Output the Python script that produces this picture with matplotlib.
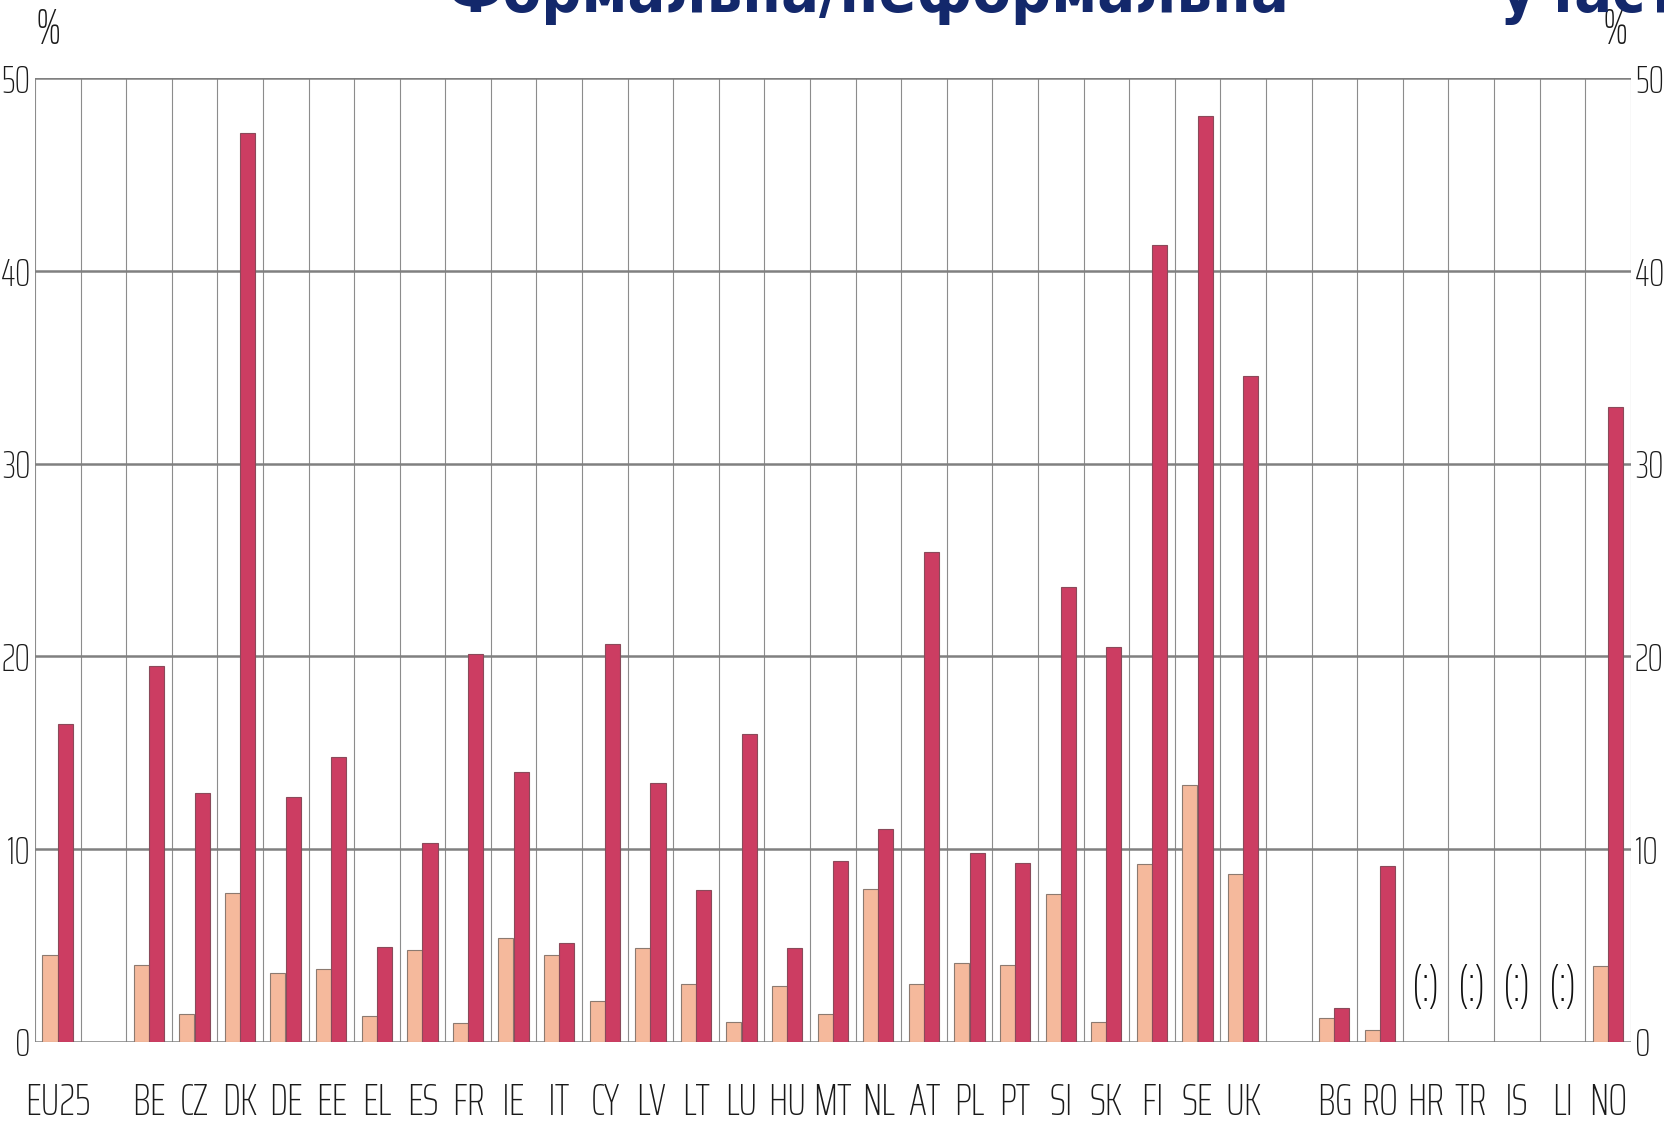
import numpy as np
import matplotlib
matplotlib.use("Agg")
import matplotlib.pyplot as plt

# countries (empty strings are the gaps between groups)
countries = ["EU25", "", "BE", "CZ", "DK", "DE", "EE", "EL", "ES", "FR", "IE", "IT",
             "CY", "LV", "LT", "LU", "HU", "MT", "NL", "AT", "PL", "PT", "SI", "SK",
             "FI", "SE", "UK", "", "BG", "RO", "HR", "TR", "IS", "LI", "NO"]
nan = np.nan
formal = [4.5, nan, 4.0, 1.45, 7.7, 3.55, 3.75, 1.35, 4.75, 0.95, 5.4, 4.5,
          2.1, 4.85, 3.0, 1.0, 2.9, 1.45, 7.95, 3.0, 4.1, 4.0, 7.65, 1.0,
          9.25, 13.3, 8.7, nan, 1.25, 0.6, nan, nan, nan, nan, 3.95]
informal = [16.5, nan, 19.5, 12.9, 47.15, 12.7, 14.8, 4.9, 10.3, 20.1, 14.0, 5.1,
            20.65, 13.45, 7.85, 15.95, 4.85, 9.4, 11.05, 25.4, 9.8, 9.3, 23.6, 20.5,
            41.35, 48.05, 34.55, nan, 1.75, 9.1, nan, nan, nan, nan, 32.95]
no_data = ["HR", "TR", "IS", "LI"]
yticks = [0, 10, 20, 30, 40, 50]

plt.rcParams["font.family"] = ["Saira ExtraCondensed", "DejaVu Sans"]
plt.rcParams["font.weight"] = "light"

fig = plt.figure(figsize=(16.64, 11.23), dpi=100)
ax = fig.add_axes([0.021, 0.0724, 0.959, 0.8577])

x = np.arange(len(countries))
ax.bar(x - 0.17, formal, 0.33, color="#F5B99C", edgecolor="#8c7a70", linewidth=0.8, zorder=3)
ax.bar(x + 0.165, informal, 0.33, color="#CC3D62", edgecolor="#8a4a5a", linewidth=0.8, zorder=3)

for c in no_data:
    ax.text(countries.index(c), 2.8, "(:)", ha="center", va="center",
            fontsize=36, color="#111111")

# grid
for xv in np.arange(-0.5, len(countries), 1.0):
    ax.axvline(xv, color="#8c8c8c", linewidth=0.8, zorder=1)
for yv in yticks:
    ax.axhline(yv, color="#808080", linewidth=1.8, zorder=2)

ax.set_xlim(-0.5, len(countries) - 0.5)
ax.set_ylim(0, 50)
for s in ax.spines.values():
    s.set_visible(False)

ax.set_xticks(x)
ax.set_xticklabels(countries, fontsize=32, color="#1a1a1a")
ax.set_yticks(yticks)
ax.set_yticklabels([str(v) for v in yticks], fontsize=28, color="#1a1a1a")
ax.tick_params(axis="x", length=0, pad=29)
ax.tick_params(axis="y", length=0, pad=3, labelleft=True, labelright=True)

fig.text(0.029, 0.973, "%", fontsize=36, ha="center", va="center", color="#1a1a1a")
fig.text(0.971, 0.973, "%", fontsize=36, ha="center", va="center", color="#1a1a1a")

# title, cut by the top edge of the picture
fig.text(0.5216, 0.9895, "Формальна/неформальна", fontsize=45, fontweight="bold",
         family="DejaVu Sans", fontstretch="condensed",
         color="#13286b", ha="center", va="baseline")
fig.text(0.9008, 0.9895, "участь", fontsize=45, fontweight="bold",
         family="DejaVu Sans", fontstretch="condensed",
         color="#13286b", ha="left", va="baseline")

fig.savefig("out.png", dpi=100)
